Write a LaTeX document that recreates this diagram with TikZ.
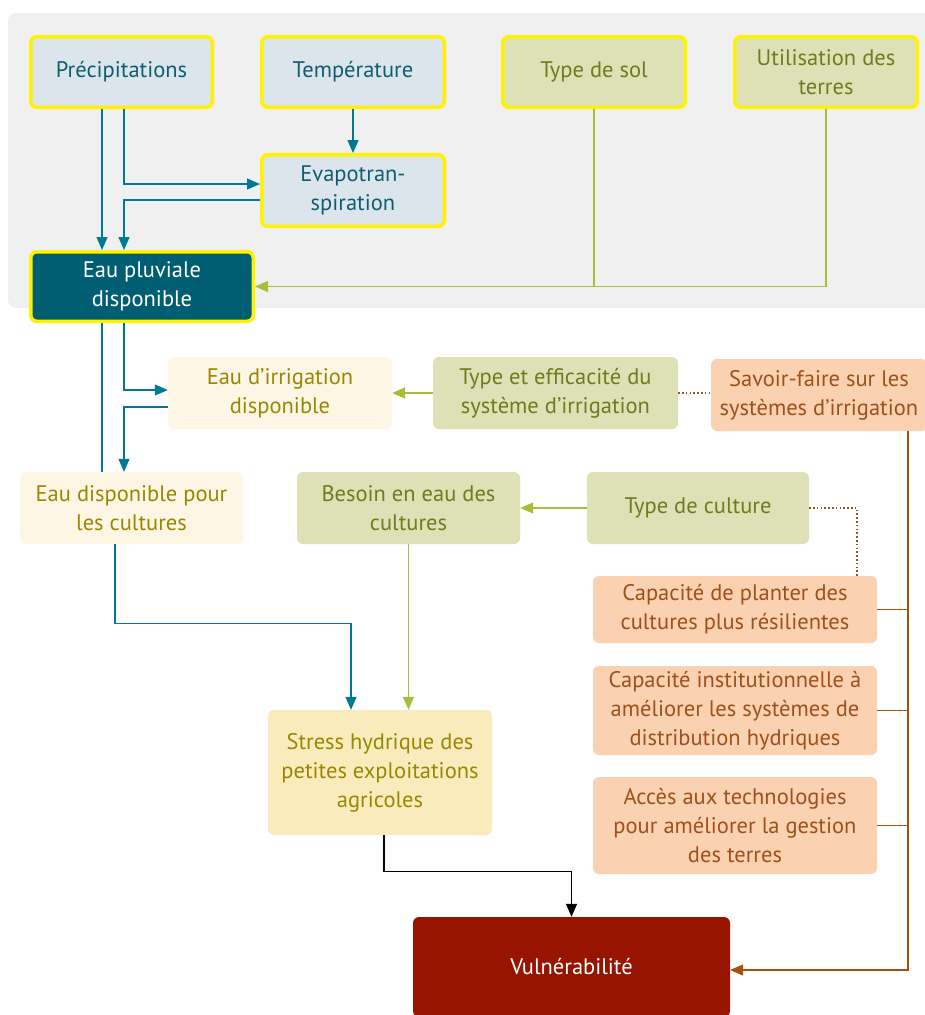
\documentclass[tikz,border=0pt]{standalone}
\usepackage{fontspec}
\setmainfont{PT Sans}
\usetikzlibrary{arrows.meta}

\definecolor{panelgray}{HTML}{F0F0F0}
\definecolor{climfill}{HTML}{DDE5EC}
\definecolor{climtext}{HTML}{0E5E70}
\definecolor{hiyellow}{HTML}{FFF200}
\definecolor{rainfill}{HTML}{005E73}
\definecolor{greenfill}{HTML}{DEE1B5}
\definecolor{greentext}{HTML}{6B7D1F}
\definecolor{creamfill}{HTML}{FEF6E4}
\definecolor{creamtext}{HTML}{9A8700}
\definecolor{stressfill}{HTML}{FAEBBC}
\definecolor{peachfill}{HTML}{FBD2B1}
\definecolor{peachtext}{HTML}{A0501A}
\definecolor{bluelink}{HTML}{007A94}
\definecolor{greenlink}{HTML}{A8BD3A}
\definecolor{brownlink}{HTML}{A5500F}
\definecolor{vulnfill}{HTML}{971500}

\tikzset{
  box/.style={rectangle, rounded corners=6pt, align=center, inner sep=2pt,
    font=\fontsize{22.5}{29}\selectfont},
  climbox/.style={box, fill=climfill, draw=hiyellow, line width=3.5pt, text=climtext},
  rainbox/.style={box, fill=rainfill, draw=hiyellow, line width=3.5pt, text=white},
  landbox/.style={box, fill=greenfill, draw=hiyellow, line width=3.5pt, text=greentext},
  greenbox/.style={box, fill=greenfill, text=greentext},
  creambox/.style={box, fill=creamfill, text=creamtext},
  stressbox/.style={box, fill=stressfill, text=creamtext},
  peachbox/.style={box, fill=peachfill, text=peachtext},
  vulnbox/.style={box, fill=vulnfill, text=white},
  tip/.style={-{Triangle[length=13pt,width=11pt]}},
  bluelk/.style={draw=bluelink, line width=1.3pt},
  greenlk/.style={draw=greenlink, line width=1.3pt},
  brownlk/.style={draw=brownlink, line width=1.3pt},
  dotlk/.style={draw=brownlink, line width=1.8pt, dash pattern=on 1.6pt off 2.2pt},
  blacklk/.style={draw=black, line width=1.3pt},
}

\begin{document}
\begin{tikzpicture}[x=1pt, y=-1pt]
\useasboundingbox (0,0) rectangle (925,1015);

% climate panel
\fill[panelgray, rounded corners=8pt] (8,13) rectangle (940,308);

% climate and land factors
\node[climbox, minimum width=181.5pt, minimum height=70.5pt] (prec) at (121.5,72) {Précipitations};
\node[climbox, minimum width=182.5pt, minimum height=70.5pt] (temp) at (353,72) {Température};
\node[climbox, minimum width=182.5pt, minimum height=71.5pt] (evap) at (353,190.5) {Evapotran-\\spiration};
\node[rainbox, minimum width=222.5pt, minimum height=69.5pt] (pluv) at (142,286.5) {Eau pluviale\\disponible};
\node[landbox, minimum width=182.5pt, minimum height=70.5pt] (sol) at (594,72) {Type de sol};
\node[landbox, minimum width=182.5pt, minimum height=70.5pt] (util) at (826,72) {Utilisation des\\terres};

% water availability
\node[creambox, minimum width=224pt, minimum height=72pt] (irrig) at (280,393) {Eau d’irrigation\\disponible};
\node[greenbox, minimum width=245pt, minimum height=72pt] (typeirr) at (555.5,393) {Type et efficacité du\\système d’irrigation};
\node[peachbox, minimum width=216pt, minimum height=72pt] (savoir) at (819,395) {Savoir-faire sur les\\systèmes d’irrigation};
\node[creambox, minimum width=223pt, minimum height=72pt] (dispo) at (131.5,508) {Eau disponible pour\\les cultures};
\node[greenbox, minimum width=223pt, minimum height=72pt] (besoin) at (408.5,508) {Besoin en eau des\\cultures};
\node[greenbox, minimum width=222pt, minimum height=72pt] (culture) at (698,508) {Type de culture};

% adaptive capacities
\node[peachbox, minimum width=284pt, minimum height=67pt] (planter) at (735,609.5) {Capacité de planter des\\cultures plus résilientes};
\node[peachbox, minimum width=284pt, minimum height=89pt] (instit) at (735,710.5) {Capacité institutionnelle à\\améliorer les systèmes de\\distribution hydriques};
\node[peachbox, minimum width=284pt, minimum height=97pt] (acces) at (735,825.5) {Accès aux technologies\\pour améliorer la gestion\\des terres};

% outcomes
\node[stressbox, minimum width=224pt, minimum height=125pt] (stress) at (380,772.5) {Stress hydrique des\\petites exploitations\\agricoles};
\node[vulnbox, minimum width=317pt, minimum height=100pt] (vuln) at (571.5,967) {Vulnérabilité};

% connector columns
\coordinate (colA) at (102,0);
\coordinate (colB) at (124,0);
\coordinate (trunk) at (908,0);

% blue links
\draw[bluelk, tip] (prec.south -| colA) -- (pluv.north -| colA);
\draw[bluelk, tip] (prec.south -| colB) |- ([yshift=6.5pt]evap.west);
\draw[bluelk, tip] ([yshift=-9.5pt]evap.west) -| (pluv.north -| colB);
\draw[bluelk, tip] (temp.south) -- (evap.north);
\draw[bluelk] (pluv.south -| colA) -- (dispo.north -| colA);
\draw[bluelk, tip] (pluv.south -| colB) |- ([yshift=3pt]irrig.west);
\draw[bluelk, tip] ([yshift=-14pt]irrig.west) -| (dispo.north -| colB);
\draw[bluelk, tip] ([xshift=-16.5pt]dispo.south) -- ++(0,79) -| ([xshift=-29pt]stress.north);

% green links
\draw[greenlk] (sol.south) -- (sol.south |- pluv.east);
\draw[greenlk, tip] (util.south) |- (pluv.east);
\draw[greenlk, tip] (typeirr.west) -- (irrig.east |- typeirr.west);
\draw[greenlk, tip] (culture.west) -- (besoin.east |- culture.west);
\draw[greenlk, tip] (besoin.south) -- (besoin.south |- stress.north);

% dotted links
\draw[dotlk] (typeirr.east) -- (typeirr.east -| savoir.west);
\draw[dotlk] (culture.east) -| ([xshift=122pt]planter.north);

% brown links
\draw[brownlk, tip] (savoir.south -| trunk) |- ([yshift=-3pt]vuln.east);
\draw[brownlk] (planter.east) -- (planter.east -| trunk);
\draw[brownlk] (instit.east) -- (instit.east -| trunk);
\draw[brownlk] (acces.east) -- (acces.east -| trunk);

% black link
\draw[blacklk, tip] ([xshift=4pt]stress.south) -- ++(0,36) -| (vuln.north);
\end{tikzpicture}
\end{document}
